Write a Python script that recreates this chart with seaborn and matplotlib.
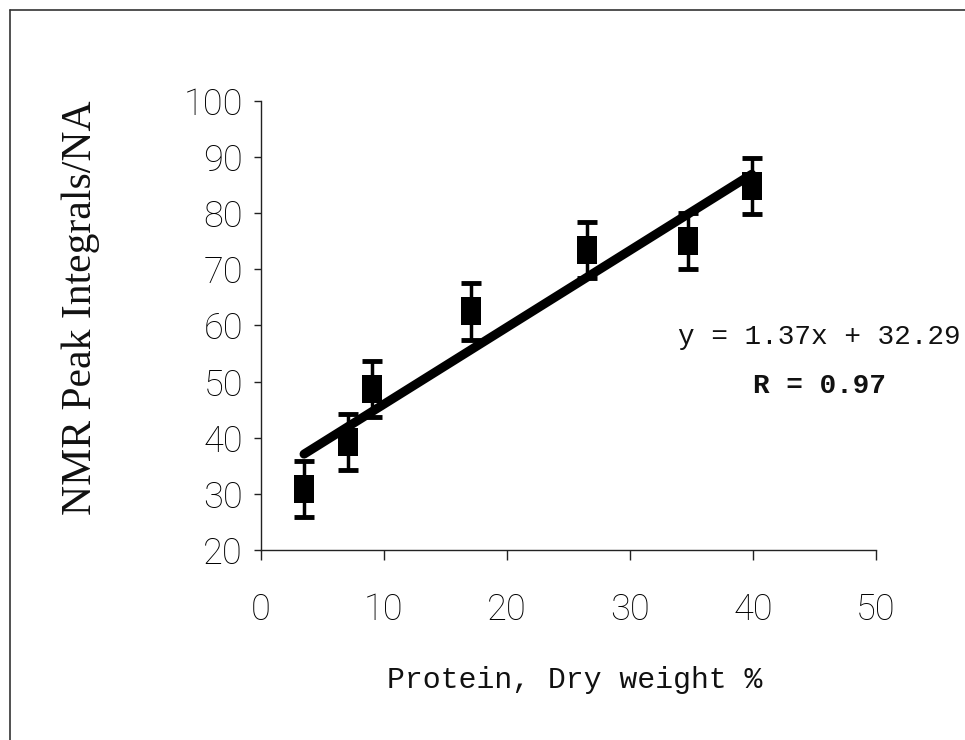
import numpy as np
import pandas as pd
import matplotlib
matplotlib.use("Agg")
import matplotlib.pyplot as plt
from matplotlib.lines import Line2D
import seaborn as sns

# ---- data ----
protein = [3.5, 7.1, 9.0, 17.1, 26.5, 34.7, 39.9]
nmr = [30.9, 39.3, 48.7, 62.5, 73.4, 75.1, 84.9]
nmr_err = [5, 5, 5, 5, 5, 5, 5]
slope = 1.37
intercept = 32.29
r_value = 0.97
x_ticks = [0, 10, 20, 30, 40, 50]
y_ticks = [20, 30, 40, 50, 60, 70, 80, 90, 100]

sns.set_style("ticks")
plt.rcParams["font.family"] = ["Roboto", "DejaVu Sans"]

df = pd.DataFrame({"protein": protein, "nmr": nmr, "err": nmr_err})

fig = plt.figure(figsize=(9.65, 7.4), dpi=100)
ax = fig.add_axes([261 / 965, 1 - 550 / 740, 615 / 965, 449 / 740])

# error bars
ax.errorbar(df["protein"], df["nmr"], yerr=df["err"], fmt="none",
            ecolor="black", elinewidth=2.5, capsize=7, capthick=3.5, zorder=2)

# rectangular black markers
rect = [(-0.36, -0.5), (0.36, -0.5), (0.36, 0.5), (-0.36, 0.5), (-0.36, -0.5)]
sns.scatterplot(data=df, x="protein", y="nmr", marker=rect, s=420,
                color="black", edgecolor="black", linewidth=0, ax=ax, zorder=3)

# fitted line
fit_x = np.array([min(protein), max(protein)])
fit_df = pd.DataFrame({"x": fit_x, "y": slope * fit_x + intercept})
sns.lineplot(data=fit_df, x="x", y="y", color="black", linewidth=6.5, ax=ax,
             zorder=4, solid_capstyle="round")

ax.set_xlim(0, 50)
ax.set_ylim(20, 100)
ax.set_xticks(x_ticks)
ax.set_yticks(y_ticks)
ax.set_xticklabels([str(t) for t in x_ticks])
ax.set_yticklabels([str(t) for t in y_ticks])

for side in ["top", "right"]:
    ax.spines[side].set_visible(False)
for side in ["left", "bottom"]:
    ax.spines[side].set_linewidth(1.0)
    ax.spines[side].set_color("#222222")

ax.tick_params(axis="x", direction="out", length=7, width=1, pad=23,
               labelsize=26, colors="#222222", labelcolor="black")
ax.tick_params(axis="y", direction="out", length=5, width=1, pad=8,
               labelsize=26, colors="#222222", labelcolor="black")
for lab in ax.get_xticklabels() + ax.get_yticklabels():
    lab.set_fontweight("light")

ax.set_xlabel("Protein, Dry weight %", family=["Liberation Mono", "DejaVu Sans Mono"],
              fontsize=21.5, color="#111111")
ax.xaxis.label.set_va("center")
ax.xaxis.set_label_coords((575 - 261) / 615, (550 - 680) / 449)

ax.set_ylabel("NMR Peak Integrals/NA", family=["Liberation Serif", "DejaVu Serif"],
              fontsize=30, color="#111111")
ax.yaxis.label.set_va("center")
ax.yaxis.set_label_coords((81 - 261) / 615, (550 - 308) / 449)

ax.text(45.4, 58.0, f"y = {slope}x + {intercept}", ha="center", va="center",
        family=["Liberation Mono", "DejaVu Sans Mono"], fontsize=20,
        color="#111111", clip_on=False)
ax.text(45.4, 49.3, f"R = {r_value}", ha="center", va="center",
        family=["Liberation Mono", "DejaVu Sans Mono"], fontsize=20,
        fontweight="bold", color="#111111", clip_on=False)

# outer frame (left and top edges visible)
fy = 1 - 10 / 740
fx = 10 / 965
fig.add_artist(Line2D([fx, fx], [0, fy], transform=fig.transFigure,
                      color="#333333", linewidth=1.2))
fig.add_artist(Line2D([fx, 1], [fy, fy], transform=fig.transFigure,
                      color="#333333", linewidth=1.2))

fig.savefig("out.png", dpi=100)
